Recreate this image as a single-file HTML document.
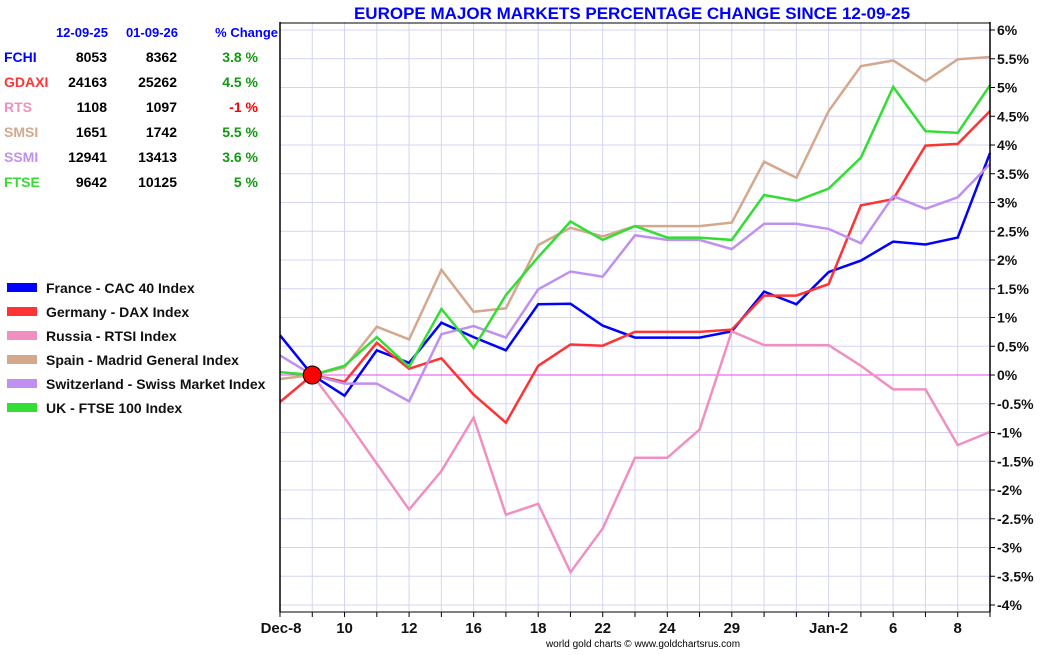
<!DOCTYPE html>
<html><head><meta charset="utf-8">
<style>
body{margin:0;background:#fff;font-family:"Liberation Sans",sans-serif;}
svg text{font-family:"Liberation Sans",sans-serif;}
</style></head>
<body>
<svg id="chart" width="1050" height="650" xmlns="http://www.w3.org/2000/svg">
<text x="632" y="19" text-anchor="middle" font-size="17" font-weight="bold" fill="#0000ff">EUROPE MAJOR MARKETS PERCENTAGE CHANGE SINCE 12-09-25</text>
<g id="grid"></g>
<g id="series"></g>
<g id="axes"></g>
<g id="table"></g>
<g id="legend"></g>
<text x="643" y="647" text-anchor="middle" font-size="10" fill="#000">world gold charts © www.goldchartsrus.com</text>
</svg>
<script>
const xTickLabels = ["Dec-8","","10","","12","","16","","18","","22","","24","","29","","","Jan-2","","6","","8",""];
const yTicks = [6,5.5,5,4.5,4,3.5,3,2.5,2,1.5,1,0.5,0,-0.5,-1,-1.5,-2,-2.5,-3,-3.5,-4];
const france = [0.69,0,-0.36,0.43,0.21,0.91,0.66,0.43,1.23,1.24,0.86,0.65,0.65,0.65,0.76,1.45,1.23,1.79,1.99,2.32,2.27,2.39,3.86];
const germany = [-0.47,0,-0.12,0.56,0.11,0.29,-0.34,-0.83,0.16,0.53,0.51,0.75,0.75,0.75,0.79,1.38,1.38,1.58,2.95,3.06,3.99,4.02,4.59];
const russia = [null,0,-0.74,-1.54,-2.34,-1.67,-0.74,-2.43,-2.24,-3.43,-2.67,-1.44,-1.44,-0.95,0.76,0.52,0.52,0.52,0.16,-0.25,-0.25,-1.22,-0.99];
const spain = [-0.07,0,0.13,0.84,0.62,1.83,1.1,1.16,2.26,2.56,2.41,2.59,2.59,2.59,2.65,3.71,3.43,4.59,5.37,5.47,5.11,5.49,5.53];
const swiss = [0.34,0,-0.15,-0.15,-0.46,0.71,0.85,0.65,1.49,1.8,1.71,2.43,2.35,2.35,2.19,2.63,2.63,2.54,2.29,3.11,2.89,3.09,3.67];
const uk = [0.05,0,0.16,0.66,0.14,1.15,0.47,1.39,2.05,2.67,2.35,2.59,2.39,2.39,2.35,3.13,3.03,3.24,3.78,5.01,4.24,4.21,5.04];
const tableNames = ["FCHI","GDAXI","RTS","SMSI","SSMI","FTSE"];
const startVals = ["8053","24163","1108","1651","12941","9642"];
const endVals = ["8362","25262","1097","1742","13413","10125"];
const pctVals = ["3.8 %","4.5 %","-1 %","5.5 %","3.6 %","5 %"];
const legendNames = ["France - CAC 40 Index","Germany - DAX Index","Russia - RTSI Index","Spain - Madrid General Index","Switzerland - Swiss Market Index","UK - FTSE 100 Index"];

const colors = ["#0000ff","#ff3333","#f090c0","#d4a88c","#c090f0","#33dd33"];
const allSeries = [france,germany,russia,spain,swiss,uk];
const seriesNames = ["france","germany","russia","spain","switzerland","uk"];
const NS="http://www.w3.org/2000/svg";
const X0=280,X1=990,Y0=30,Y1=605;
const n=france.length;
function xs(i){return X0+(X1-X0)*i/(n-1);}
function ys(v){return Y0+(6-v)*(Y1-Y0)/10;}
function mk(tag,attrs,parent){const e=document.createElementNS(NS,tag);for(const k in attrs)e.setAttribute(k,attrs[k]);parent.appendChild(e);return e;}
const grid=document.getElementById('grid'),axes=document.getElementById('axes'),ser=document.getElementById('series');
for(let i=0;i<n;i++){const l=mk('line',{x1:xs(i),x2:xs(i),y1:22,y2:Y1+6,stroke:'#d4d4f4','stroke-width':1},grid);

}
yTicks.forEach(v=>{const l=mk('line',{x1:X0,x2:X1,y1:ys(v),y2:ys(v),stroke:v===0?'#ee44ee':'#d4d4f4','stroke-width':1},grid);


const t=mk('text',{x:997,y:ys(v)+5,'font-size':14,'font-weight':'bold',fill:'#111'},axes);t.textContent=v+'%';


const tk=mk('line',{x1:X1,x2:X1+5,y1:ys(v),y2:ys(v),stroke:'#000'},axes);

});
mk('line',{x1:X0,x2:X0,y1:22,y2:Y1+7,stroke:'#000','stroke-width':1.5},axes);
mk('line',{x1:X1,x2:X1,y1:22,y2:Y1+7,stroke:'#000','stroke-width':1.5},axes);
mk('line',{x1:X0,x2:X1,y1:23,y2:23,stroke:'#000','stroke-width':1},axes);
mk('line',{x1:X0,x2:X1,y1:Y1+7,y2:Y1+7,stroke:'#000','stroke-width':1},axes);
xTickLabels.forEach((lb,i)=>{const tk=mk('line',{x1:xs(i),x2:xs(i),y1:Y1+7,y2:Y1+12,stroke:'#000'},axes);


if(lb){const t=mk('text',{x:xs(i)+(i===0?1:0),y:633,'text-anchor':'middle','font-size':15,'font-weight':'bold',fill:'#111'},axes);t.textContent=lb;

}});
allSeries.forEach((s,k)=>{let d='';s.forEach((v,i)=>{if(v===null)return;d+=(d?'L':'M')+xs(i).toFixed(1)+','+ys(v).toFixed(1);});
const p=mk('path',{d:d,fill:'none',stroke:colors[k],'stroke-width':2.5,'stroke-linejoin':'miter'},ser);

});
const c=mk('circle',{cx:xs(1),cy:ys(0),r:9,fill:'#ff0000',stroke:'#000','stroke-width':1},ser);


const tb=document.getElementById('table');
[["12-09-25",108],["01-09-26",178],["% Change",278]].forEach(h=>{const t=mk('text',{x:h[1],y:37,'text-anchor':'end','font-size':13,'font-weight':'bold',fill:'#0000ff'},tb);t.textContent=h[0];

});
tableNames.forEach((nm,r)=>{const y=62+r*25;
const a=mk('text',{x:4,y:y,'font-size':14,'font-weight':'bold',fill:colors[r]},tb);a.textContent=nm;


const b=mk('text',{x:107,y:y,'text-anchor':'end','font-size':14,'font-weight':'bold',fill:'#000'},tb);b.textContent=startVals[r];


const cc=mk('text',{x:177,y:y,'text-anchor':'end','font-size':14,'font-weight':'bold',fill:'#000'},tb);cc.textContent=endVals[r];


const d=mk('text',{x:258,y:y,'text-anchor':'end','font-size':14,'font-weight':'bold',fill:pctVals[r].startsWith('-')?'#ff0000':'#119911'},tb);d.textContent=pctVals[r];

});
const lg=document.getElementById('legend');
legendNames.forEach((nm,r)=>{const y=288+r*24;
const sw=mk('rect',{x:7,y:y-5,width:30,height:9,fill:colors[r]},lg);


const t=mk('text',{x:46,y:y+5,'font-size':14,'font-weight':'bold',fill:'#111'},lg);t.textContent=nm;

});
</script>
</body></html>
